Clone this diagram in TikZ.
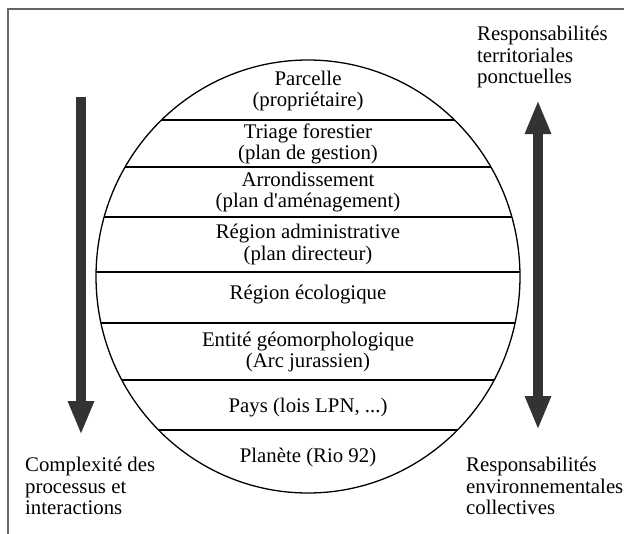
\documentclass[tikz,border=0pt]{standalone}
\usepackage{fontspec}
\setmainfont{Liberation Serif}
\usetikzlibrary{arrows.meta}
\definecolor{arrowgray}{HTML}{333333}
\newcommand{\txtsize}{\fontsize{20.8}{21.8}\selectfont}

\begin{document}
\begin{tikzpicture}[x=1pt, y=-1pt,
	band/.style={align=center, inner sep=0pt, font=\txtsize},
	side/.style={align=left, inner sep=0pt, anchor=west, font=\txtsize},
	bigarrow/.style={arrowgray, line width=9.5pt, -{Triangle[width=24pt, length=34pt]}}]% {{{ echelles
	\useasboundingbox (0,0) rectangle (624,533);
	\draw[gray!80!black, line width=1.2pt] (8,9) rectangle (640,545);

	% globe et ses tranches
	\draw[line width=1.3pt] (308,276.5) ellipse (212 and 216.5);
	\begin{scope}
		\clip (308,276.5) ellipse (212 and 216.5);
		\foreach \y in {120,167,217,272,323,380,430}
			\draw[line width=1.3pt] (90,\y) -- (530,\y);
	\end{scope}

	\node[band] (parcelle) at (308,91) {Parcelle\\(propriétaire)};
	\node[band] (triage) at (308,144) {Triage forestier\\(plan de gestion)};
	\node[band] (arrond) at (308,192) {Arrondissement\\(plan d\textquotesingle aménagement)};
	\node[band] (regadm) at (308,244.5) {Région administrative\\(plan directeur)};
	\node[band] (regeco) at (308,295) {Région écologique};
	\node[band] (entite) at (308,352) {Entité géomorphologique\\(Arc jurassien)};
	\node[band] (pays) at (308,408) {Pays (lois LPN, ...)};
	\node[band] (planete) at (308,457) {Planète (Rio 92)};

	% textes lateraux
	\node[side] (complex) at (25,486) {Complexité des\\processus et\\interactions};
	\node[side] (resptop) at (477,57) {Responsabilités\\territoriales\\ponctuelles};
	\node[side] (respbot) at (466,486) {Responsabilités\\environnementales\\collectives};

	% fleches
	\coordinate (lhaut) at (81,97);
	\coordinate (lbas) at (81,435);
	\coordinate (rhaut) at (538,100);
	\coordinate (rbas) at (538,430);
	\draw[bigarrow] (lhaut) -- (lbas);
	\draw[bigarrow, {Triangle[width=24pt, length=34pt]}-{Triangle[width=24pt, length=34pt]}] (rhaut) -- (rbas);
\end{tikzpicture}% }}}
\end{document}
